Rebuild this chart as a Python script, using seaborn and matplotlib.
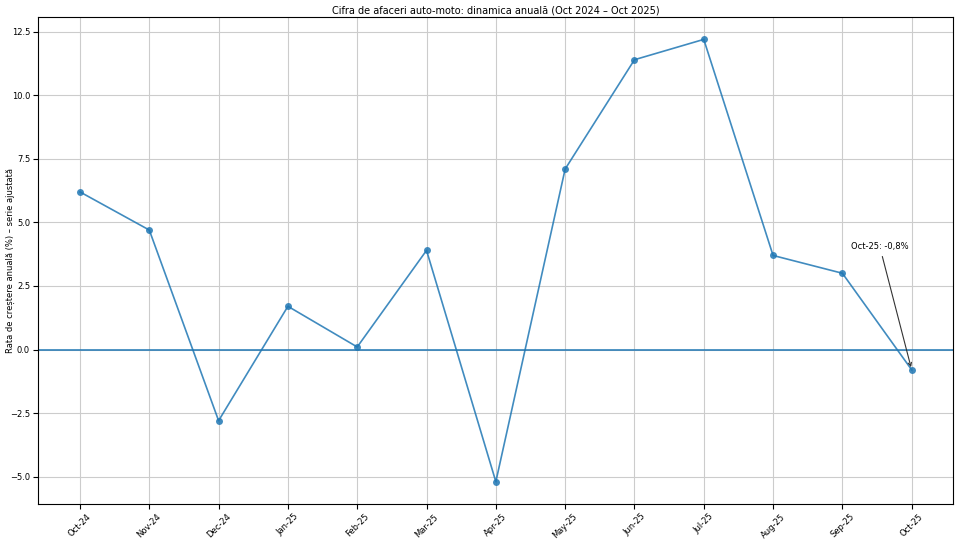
import pandas as pd
import matplotlib
matplotlib.use("Agg")
import matplotlib.pyplot as plt
import seaborn as sns

# Date: dinamica anuala cifra de afaceri auto-moto
luni = ["Oct-24", "Nov-24", "Dec-24", "Jan-25", "Feb-25", "Mar-25", "Apr-25",
        "May-25", "Jun-25", "Jul-25", "Aug-25", "Sep-25", "Oct-25"]
rata = [6.2, 4.7, -2.8, 1.7, 0.1, 3.9, -5.2, 7.1, 11.4, 12.2, 3.7, 3.0, -0.8]

df = pd.DataFrame({"luna": luni, "rata": rata})
df["idx"] = range(len(df))

plt.rcParams["font.family"] = ["DejaVu Sans"]

fig, ax = plt.subplots(figsize=(9.6, 5.4), dpi=100)
sns.lineplot(data=df, x="idx", y="rata", marker="o", markersize=5,
             markeredgewidth=0, color="#1f77b4", linewidth=1.2, ax=ax)
ax.lines[0].set_alpha(0.85)
ax.axhline(0, color="#1f77b4", linewidth=1.1)

ax.set_xticks(df["idx"])
ax.set_xticklabels(luni, rotation=45, fontsize=6)
ax.tick_params(axis="y", labelsize=6, pad=2.5)
ax.tick_params(axis="x", pad=2.5)
ax.grid(True, color="#cccccc", linewidth=0.8)
ax.set_axisbelow(True)

ax.set_title("Cifra de afaceri auto-moto: dinamica anuală (Oct 2024 – Oct 2025)",
             fontsize=7, pad=3)
ax.set_xlabel("")
ax.set_ylabel("Rata de creștere anuală (%) – serie ajustată", fontsize=6)
ax.yaxis.set_label_coords(-0.026, 0.5)

ultim = df.iloc[-1]
ax.annotate(f"{ultim['luna']}: {str(ultim['rata']).replace('.', ',')}%",
            xy=(ultim["idx"], ultim["rata"]), xytext=(-23, 87),
            textcoords="offset points", ha="center", fontsize=6,
            arrowprops=dict(arrowstyle="->", color="#333333", lw=0.8))

plt.subplots_adjust(left=0.04, right=0.993, top=0.968, bottom=0.067)
plt.savefig("out.png")
plt.close()
